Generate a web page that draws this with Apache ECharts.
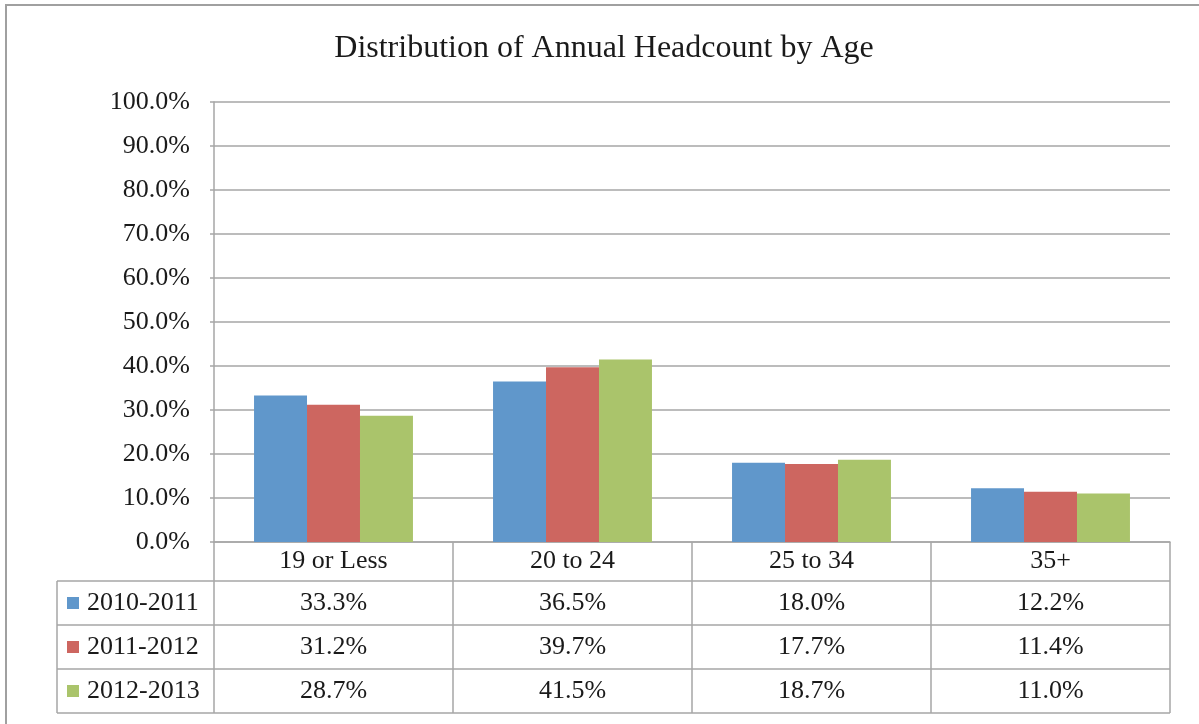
<!DOCTYPE html>
<html>
<head>
<meta charset="utf-8">
<title>Distribution of Annual Headcount by Age</title>
<script src="https://cdn.jsdelivr.net/npm/echarts@6.0.0/dist/echarts.min.js"></script>
<style>
  html, body { margin: 0; padding: 0; background: #fff; }
  #chart { width: 1199px; height: 724px; }
</style>
</head>
<body>
<div id="chart"></div>
<script>
// data
const categories = ['19 or Less', '20 to 24', '25 to 34', '35+']
const seriesNames = ['2010-2011', '2011-2012', '2012-2013']
const values2010 = [33.3, 36.5, 18.0, 12.2]
const values2011 = [31.2, 39.7, 17.7, 11.4]
const values2012 = [28.7, 41.5, 18.7, 11.0]
const yTicks = [0, 10, 20, 30, 40, 50, 60, 70, 80, 90, 100]

const seriesValues = [values2010, values2011, values2012]
const colors = ['#6097CB', '#CD6660', '#AAC46B']

// layout (pixels)
const gridLeft = 214
const gridRight = 1170
const gridTop = 102
const gridBottom = 542
const tableLeft = 57
const rowLines = [581, 625, 669, 713]
const lineColor = '#A6A6A6'
const font = "'Liberation Serif', 'Times New Roman', serif"
const textColor = '#1a1a1a'
const labelSize = 26

function pct(v) {
  return Number(v).toFixed(1) + '%'
}

function initChart() {
  const chart = echarts.init(document.getElementById('chart'))

  // the header row holds the category names, the rows below hold the values
  const rowCenters = [(gridBottom + rowLines[0]) / 2]
  for (let i = 0; i < 3; i++) rowCenters.push((rowLines[i] + rowLines[i + 1]) / 2)

  const xAxes = [
    {
      type: 'category',
      data: categories,
      axisLine: { lineStyle: { color: lineColor, width: 1.5 } },
      axisTick: {
        show: true,
        length: rowLines[3] - gridBottom,
        lineStyle: { color: lineColor, width: 1.5 }
      },
      axisLabel: {
        margin: rowCenters[0] - gridBottom,
        verticalAlign: 'middle',
        fontFamily: font,
        fontSize: labelSize,
        color: textColor
      }
    }
  ]
  seriesValues.forEach((vals, s) => {
    xAxes.push({
      type: 'category',
      data: categories,
      position: 'bottom',
      axisLine: { show: false },
      axisTick: { show: false },
      axisLabel: {
        margin: rowCenters[s + 1] - gridBottom,
        verticalAlign: 'middle',
        fontFamily: font,
        fontSize: labelSize,
        color: textColor,
        formatter: (value, index) => pct(vals[index])
      }
    })
  })

  const graphics = [
    {
      type: 'rect',
      shape: { x: 6, y: 5, width: 1400, height: 900 },
      style: { fill: null, stroke: '#A0A0A0', lineWidth: 2 },
      silent: true
    },
    {
      type: 'line',
      shape: { x1: tableLeft, y1: rowLines[0], x2: tableLeft, y2: rowLines[3] },
      style: { stroke: lineColor, lineWidth: 1.5 },
      silent: true
    }
  ]
  rowLines.forEach((y) => {
    graphics.push({
      type: 'line',
      shape: { x1: tableLeft, y1: y, x2: gridRight, y2: y },
      style: { stroke: lineColor, lineWidth: 1.5 },
      silent: true
    })
  })

  const options = {
    color: colors,
    animation: false,
    title: {
      text: 'Distribution of Annual Headcount by Age',
      left: 604,
      top: 33,
      textAlign: 'center',
      padding: 0,
      textStyle: { fontFamily: font, fontSize: 32, fontWeight: 'normal', color: textColor }
    },
    legend: {
      orient: 'vertical',
      left: 67,
      top: rowCenters[1] - labelSize / 2,
      padding: 0,
      itemWidth: 12,
      itemHeight: 12,
      itemGap: 44 - labelSize,
      icon: 'rect',
      data: seriesNames,
      textStyle: { fontFamily: font, fontSize: labelSize, lineHeight: labelSize, color: textColor, padding: [0, 0, 0, 3] }
    },
    grid: {
      left: gridLeft,
      right: 1199 - gridRight,
      top: gridTop,
      bottom: 724 - gridBottom,
      containLabel: false
    },
    xAxis: xAxes,
    yAxis: {
      type: 'value',
      min: yTicks[0],
      max: yTicks[yTicks.length - 1],
      interval: yTicks[1] - yTicks[0],
      axisLine: { show: true, lineStyle: { color: lineColor, width: 1.5 } },
      axisTick: { show: true, length: 4, lineStyle: { color: lineColor, width: 1.5 } },
      splitLine: { lineStyle: { color: lineColor, width: 1.5 } },
      axisLabel: {
        margin: 24,
        fontFamily: font,
        fontSize: labelSize,
        color: textColor,
        formatter: (v) => pct(v)
      }
    },
    graphic: graphics,
    series: seriesNames.map((name, i) => ({
      name: name,
      type: 'bar',
      xAxisIndex: 0,
      barGap: '0%',
      barCategoryGap: '33.5%',
      data: seriesValues[i]
    }))
  }
  chart.setOption(options)
}

initChart()
</script>
</body>
</html>
